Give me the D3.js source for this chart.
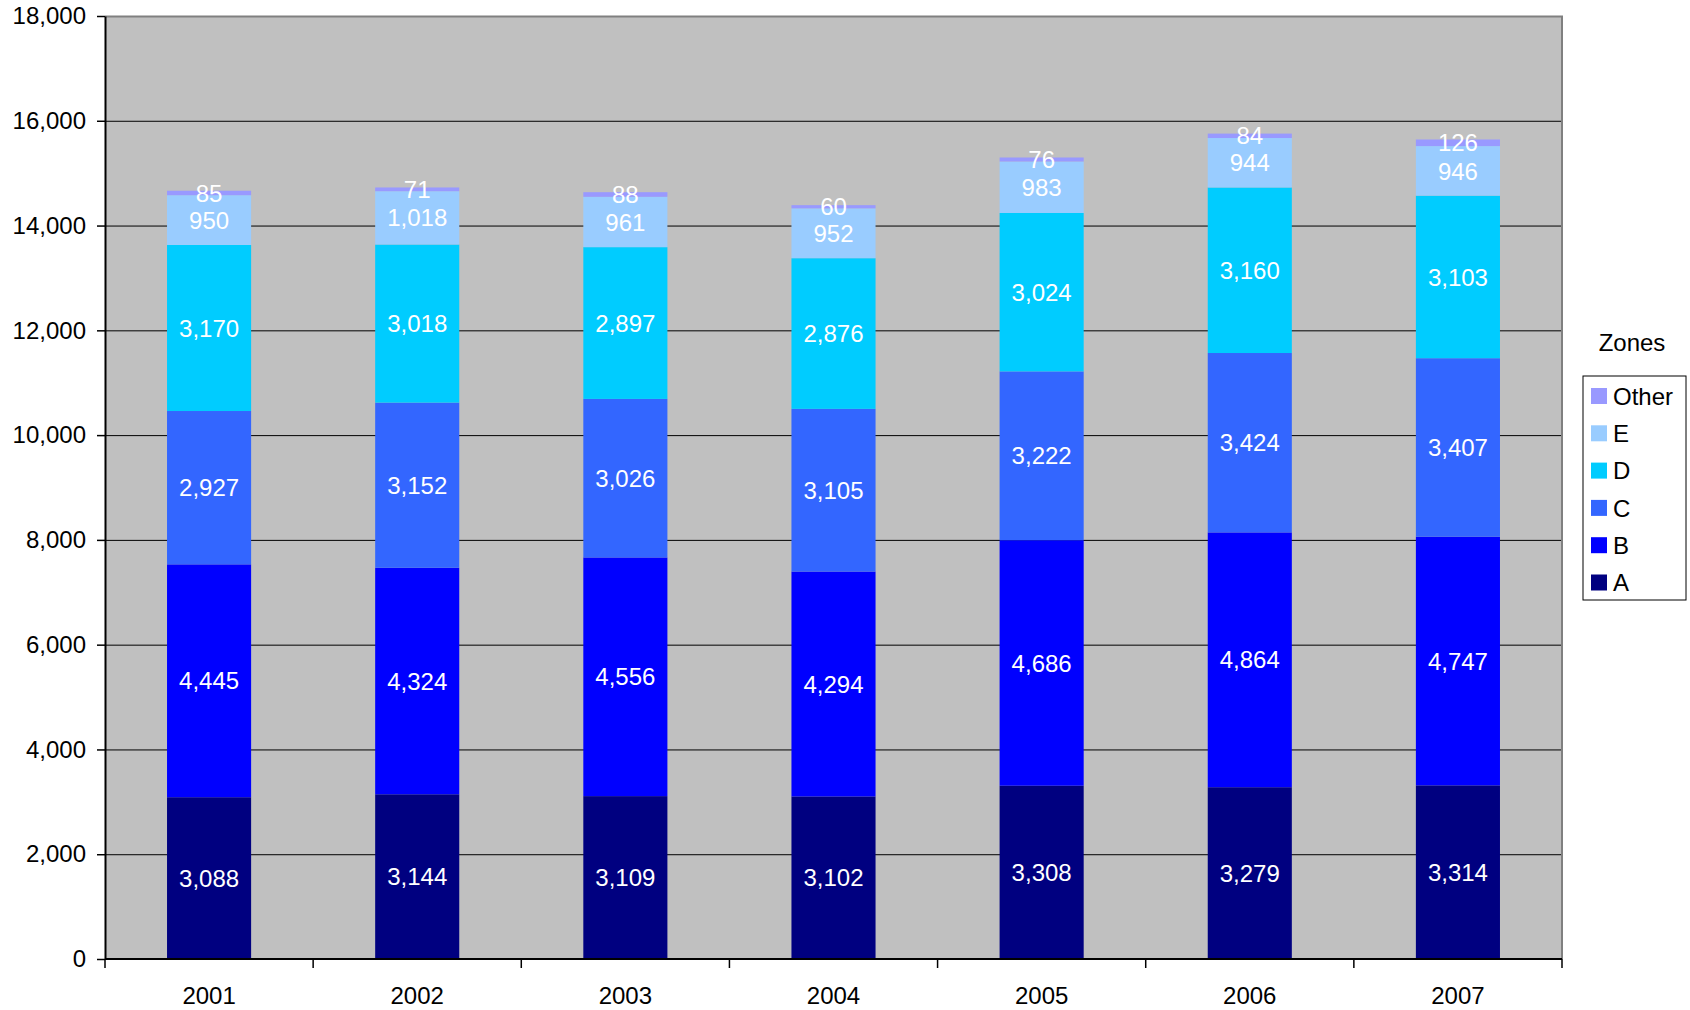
<!DOCTYPE html>
<html>
<head>
<meta charset="utf-8">
<script src="https://cdn.jsdelivr.net/npm/d3@7"></script>
<style>
html,body{margin:0;padding:0;background:#fff;}
svg{display:block;font-family:Arial,"Liberation Sans",sans-serif;}
</style>
</head>
<body>
<svg id="chart" width="1690" height="1010"></svg>
<script>
const years = ["2001","2002","2003","2004","2005","2006","2007"];
const zones = ["A","B","C","D","E","Other"];
const zoneColors = ["#000080","#0000FF","#3366FF","#00CCFF","#99CCFF","#9999FF"];
const valuesA = [3088,3144,3109,3102,3308,3279,3314];
const valuesB = [4445,4324,4556,4294,4686,4864,4747];
const valuesC = [2927,3152,3026,3105,3222,3424,3407];
const valuesD = [3170,3018,2897,2876,3024,3160,3103];
const valuesE = [950,1018,961,952,983,944,946];
const valuesOther = [85,71,88,60,76,84,126];
const yTicks = [0,2000,4000,6000,8000,10000,12000,14000,16000,18000];
const legendTitle = "Zones";

const seriesValues = [valuesA,valuesB,valuesC,valuesD,valuesE,valuesOther];
const rows = years.map((y,i)=>{
  const r = {year:y};
  zones.forEach((z,k)=>{ r[z] = seriesValues[k][i]; });
  return r;
});

const FF = "Arial, 'Liberation Sans', sans-serif";
const FS = 24;
const svg = d3.select("#chart");
const L = 105, R = 1562, T = 16, B = 959;

const x = d3.scaleBand().domain(years).range([L,R]).paddingInner(0.596).paddingOuter(0.298);
const xCat = d3.scaleBand().domain(years).range([L,R]);
const y = d3.scaleLinear().domain([0,18000]).range([B,T]);

// plot background
svg.append("rect").attr("x",L).attr("y",T).attr("width",R-L).attr("height",B-T).attr("fill","#C0C0C0");

// gridlines
svg.append("g").selectAll("line").data(yTicks.filter(t=>t>0 && t<18000)).join("line")
  .attr("x1",L).attr("x2",R).attr("y1",d=>y(d)+0.5).attr("y2",d=>y(d)+0.5)
  .attr("stroke","#000").attr("stroke-width",1);

// plot border (top/right gray)
svg.append("path").attr("d",`M${L},${T+0.5}H${R}V${B}`).attr("fill","none").attr("stroke","#808080").attr("stroke-width",2);

// stacked bars
const stack = d3.stack().keys(zones)(rows);
const fmt = d3.format(",");
const layers = svg.append("g").selectAll("g").data(stack).join("g")
  .attr("fill",(d,i)=>zoneColors[i]);
layers.selectAll("rect").data(d=>d).join("rect")
  .attr("x",d=>x(d.data.year)).attr("width",x.bandwidth())
  .attr("y",d=>y(d[1])).attr("height",d=>y(d[0])-y(d[1]));

// labels
const labG = svg.append("g").attr("fill","#fff").attr("font-size",FS).attr("text-anchor","middle");
stack.forEach((layer,k)=>{
  labG.selectAll(null).data(layer).join("text")
    .attr("x",d=>x(d.data.year)+x.bandwidth()/2)
    .attr("y",d=>(y(d[0])+y(d[1]))/2)
    .attr("dy","0.36em")
    .text(d=>fmt(d.data[zones[k]]));
});

// y axis
const yAxis = svg.append("g").attr("transform",`translate(${L},0)`)
  .call(d3.axisLeft(y).tickValues(yTicks).tickFormat(fmt).tickSize(8).tickSizeOuter(0));
yAxis.attr("font-family",FF).attr("font-size",FS);
yAxis.select(".domain").attr("stroke","#000").attr("stroke-width",2);
yAxis.selectAll(".tick line").attr("stroke","#000").attr("stroke-width",1.5);
yAxis.selectAll("text").attr("font-size",FS).attr("fill","#000").attr("x",-19);

// x axis
const xAxis = svg.append("g").attr("transform",`translate(0,${B})`);
xAxis.append("line").attr("x1",L).attr("x2",R).attr("y1",0).attr("y2",0).attr("stroke","#000").attr("stroke-width",2);
const boundaries = years.map(yr=>xCat(yr)).concat([R]);
xAxis.selectAll("line.tk").data(boundaries).join("line").attr("class","tk")
  .attr("x1",d=>d).attr("x2",d=>d).attr("y1",0).attr("y2",9).attr("stroke","#000").attr("stroke-width",1.5);
xAxis.selectAll("text").data(years).join("text")
  .attr("x",d=>xCat(d)+xCat.bandwidth()/2).attr("y",36)
  .attr("dy","0.36em").attr("text-anchor","middle").attr("font-size",FS).attr("fill","#000")
  .text(d=>d);

// legend
svg.append("text").attr("x",1632).attr("y",342).attr("dy","0.36em").attr("text-anchor","middle")
  .attr("font-size",FS).attr("fill","#000").text(legendTitle);
svg.append("rect").attr("x",1583).attr("y",376).attr("width",103).attr("height",224)
  .attr("fill","#fff").attr("stroke","#000").attr("stroke-width",1);
const legOrder = zones.slice().reverse();
const leg = svg.append("g").selectAll("g").data(legOrder).join("g")
  .attr("transform",(d,i)=>`translate(1591,${396+i*37.3})`);
leg.append("rect").attr("x",0).attr("y",-8).attr("width",16).attr("height",16)
  .attr("fill",d=>zoneColors[zones.indexOf(d)]);
leg.append("text").attr("x",22).attr("y",0).attr("dy","0.36em").attr("font-size",FS).attr("fill","#000").text(d=>d);
</script>
</body>
</html>
